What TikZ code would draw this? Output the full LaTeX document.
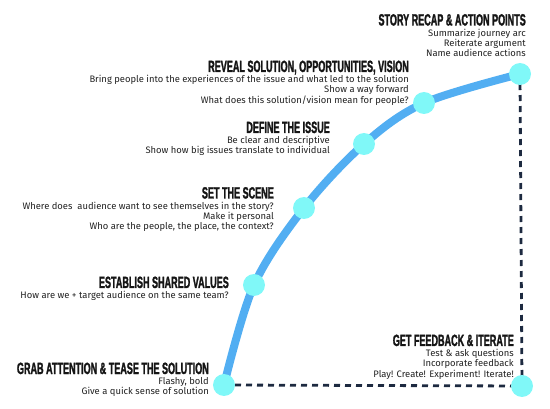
\documentclass[tikz,border=0pt]{standalone}
\usepackage{fontspec}
\usepackage{xcolor}
\usepackage{tikz}
\usetikzlibrary{positioning,backgrounds}
\setmainfont{Fira Sans}
\newfontfamily\headfont[FakeStretch=0.555,FakeBold=1.5]{Liberation Sans}
\definecolor{arcblue}{HTML}{52AEF2}
\definecolor{dotcyan}{HTML}{80F8F8}
\definecolor{navyc}{HTML}{1D2A40}
\definecolor{inkc}{HTML}{151515}
\definecolor{notec}{HTML}{222222}
\tikzset{
  arcline/.style={line width=8pt,arcblue,line cap=round},
  backline/.style={line width=2.8pt,navyc,dash pattern=on 6pt off 5pt},
  stopdot/.style={circle,fill=dotcyan,minimum size=22pt,inner sep=0pt},
  stagehead/.style={font=\headfont\bfseries\fontsize{16.3}{16}\selectfont,text=inkc,inner sep=0pt,anchor=base east},
  stagenote/.style={font=\fontsize{9.4}{10.4}\selectfont,text=notec,align=right,inner sep=0pt}
}
\begin{document}
\begin{tikzpicture}[x=1pt,y=-1pt]
\useasboundingbox (0,0) rectangle (550,409);
\node[stopdot] (grab) at (224,385) {};
\node[stopdot] (shared) at (254,285) {};
\node[stopdot] (scene) at (304,208) {};
\node[stopdot] (issue) at (364,144) {};
\node[stopdot] (reveal) at (424,103) {};
\node[stopdot] (recap) at (520,74) {};
\node[stopdot] (feedback) at (522,386) {};
\begin{scope}[on background layer]
\draw[arcline] plot[smooth,tension=0.55] coordinates {(grab.center) (shared.center) (scene.center) (issue.center) (reveal.center) (recap.center)};
\draw[backline] (grab.center) -- (feedback.center) -- (recap.center);
\end{scope}
\node[stagehead] (recapH) at (526,25.5) {STORY RECAP \& ACTION POINTS};
\node[stagenote,below left=3pt and 0pt of recapH.base east] (recapN) {Summarize journey arc\\Reiterate argument\\Name audience actions};
\node[stagehead] (revealH) at (409,72) {REVEAL SOLUTION, OPPORTUNITIES, VISION};
\node[stagenote,below left=3pt and 0pt of revealH.base east] (revealN) {Bring people into the experiences of the issue and what led to the solution\\Show a way forward\\What does this solution/vision mean for people?};
\node[stagehead] (issueH) at (330,133) {DEFINE THE ISSUE};
\node[stagenote,below left=3pt and 0pt of issueH.base east] (issueN) {Be clear and descriptive\\Show how big issues translate to individual};
\node[stagehead] (sceneH) at (274,198.5) {SET THE SCENE};
\node[stagenote,below left=3pt and 0pt of sceneH.base east] (sceneN) {Where does~ audience want to see themselves in the story?\\Make it personal\\Who are the people, the place, the context?};
\node[stagehead] (sharedH) at (229,288) {ESTABLISH SHARED VALUES};
\node[stagenote,below left=3pt and 0pt of sharedH.base east] (sharedN) {How are we + target audience on the same team?};
\node[stagehead] (feedbackH) at (514,346) {GET FEEDBACK \& ITERATE};
\node[stagenote,below left=3pt and 0pt of feedbackH.base east] (feedbackN) {Test \& ask questions\\Incorporate feedback\\Play! Create! Experiment! Iterate!};
\node[stagehead] (grabH) at (209,374) {GRAB ATTENTION \& TEASE THE SOLUTION};
\node[stagenote,below left=3pt and 0pt of grabH.base east] (grabN) {Flashy, bold\\Give a quick sense of solution};
\end{tikzpicture}
\end{document}
